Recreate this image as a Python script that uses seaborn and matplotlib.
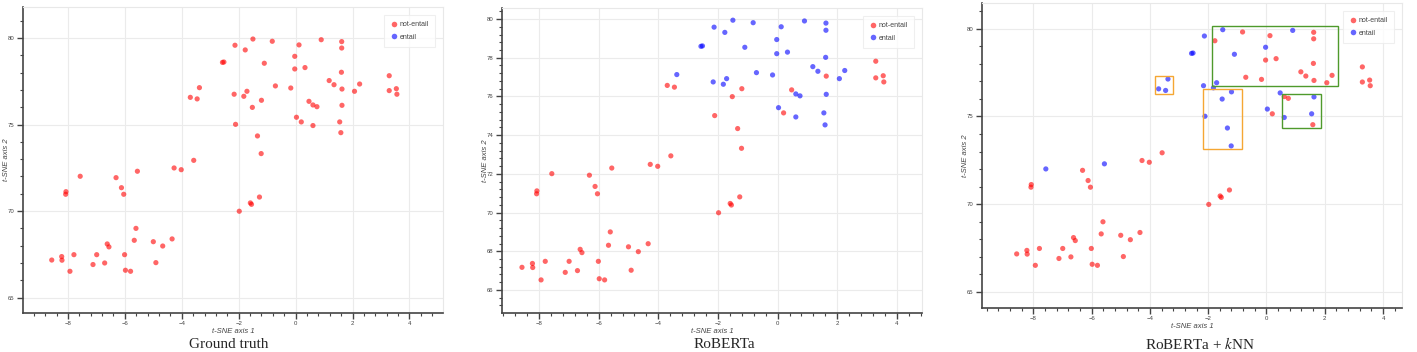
import numpy as np
import pandas as pd
import matplotlib
matplotlib.use("Agg")
import matplotlib.pyplot as plt
import seaborn as sns
from matplotlib.ticker import MultipleLocator
from matplotlib.patches import Rectangle
from matplotlib.lines import Line2D

# t-SNE coordinates of the 79 examples (same points in every panel)
tsne_x = [-8.57, -8.22, -8.21, -7.93, -7.79, -8.07, -8.08, -7.57, -7.12, -6.99,
          -6.71, -6.62, -6.56, -6.31, -6.12, -6.04, -6.01, -5.98, -5.80, -5.67,
          -5.61, -5.56, -5.00, -4.91, -4.67, -4.34, -4.27, -4.02, -3.58, -3.70,
          -3.46, -3.38, -2.57, -2.52, -2.16, -2.13, -2.11, -1.98, -1.82, -1.77,
          -1.71, -1.59, -1.55, -1.52, -1.50, -1.34, -1.27, -1.21, -1.20, -1.10,
          -0.82, -0.71, -0.17, -0.03, -0.03, 0.03, 0.12, 0.20, 0.33, 0.47,
          0.61, 0.61, 0.75, 0.90, 1.18, 1.35, 1.55, 1.59, 1.61, 1.62,
          1.62, 1.63, 1.63, 2.07, 2.25, 3.29, 3.29, 3.54, 3.56]
tsne_y = [67.17, 67.37, 67.16, 66.52, 67.48, 71.12, 70.97, 72.01, 66.91, 67.48,
          67.00, 68.10, 67.93, 71.93, 71.35, 70.97, 67.48, 66.58, 66.52, 68.31,
          69.00, 72.30, 68.23, 67.02, 67.98, 68.39, 72.49, 72.39, 72.93, 76.57,
          76.48, 77.13, 78.59, 78.61, 76.75, 79.58, 75.01, 69.99, 76.63, 79.31,
          76.92, 70.47, 70.39, 75.99, 79.94, 74.34, 70.81, 73.32, 76.40, 78.54,
          79.81, 77.23, 77.11, 78.94, 78.21, 75.42, 79.60, 75.15, 78.29, 76.34,
          76.13, 74.94, 76.03, 79.90, 77.54, 77.30, 75.15, 74.53, 78.02, 79.42,
          79.79, 77.05, 76.11, 76.92, 77.34, 77.82, 76.96, 77.07, 76.75]

# 1 = entail, 0 = not-entail
truth_labels = [0] * 79
roberta_labels = [0, 0, 0, 0, 0, 0, 0, 0, 0, 0,
                  0, 0, 0, 0, 0, 0, 0, 0, 0, 0,
                  0, 0, 0, 0, 0, 0, 0, 0, 0, 0,
                  0, 1, 1, 1, 1, 1, 0, 0, 1, 1,
                  1, 0, 0, 0, 1, 0, 0, 0, 0, 1,
                  1, 1, 1, 1, 1, 1, 1, 0, 1, 0,
                  1, 1, 1, 1, 1, 1, 1, 1, 1, 1,
                  1, 0, 1, 1, 1, 0, 0, 0, 0]
knn_labels = [0, 0, 0, 0, 0, 0, 0, 1, 0, 0,
              0, 0, 0, 0, 0, 0, 0, 0, 0, 0,
              0, 1, 0, 0, 0, 0, 0, 0, 0, 1,
              1, 1, 1, 1, 1, 1, 1, 0, 1, 0,
              1, 0, 0, 1, 1, 1, 0, 1, 1, 1,
              0, 0, 0, 1, 0, 1, 0, 0, 0, 1,
              0, 1, 0, 1, 0, 0, 1, 0, 0, 0,
              0, 0, 1, 0, 0, 0, 0, 0, 0]

class_names = ["not-entail", "entail"]
captions = ["Ground truth", "RoBERTa", "RoBERTa + $\\it{k}$NN"]

# highlighted regions in the kNN panel: (x0, y0, x1, y1, colour)
knn_boxes = [(-1.87, 76.73, 2.45, 80.13, "#4f9a2c"),
             (0.54, 74.34, 1.86, 76.26, "#4f9a2c"),
             (-3.84, 76.28, -3.22, 77.28, "#f5a733"),
             (-2.18, 73.15, -0.84, 76.56, "#f5a733")]

sns.set_style("white")
plt.rcParams["font.family"] = ["Liberation Sans", "DejaVu Sans"]
plt.rcParams["mathtext.fontset"] = "stix"

palette = {"not-entail": (1.0, 0.0, 0.0, 0.6), "entail": (0.0, 0.0, 1.0, 0.6)}

fig = plt.figure(figsize=(14.17, 3.52), dpi=100)
W, H = 1417, 352
# axes boxes in pixels: left, top, right, bottom
boxes = [(23, 7, 443, 313), (502, 8, 922, 313), (982, 3, 1402, 308)]
xlims = [(-9.58, 5.18), (-9.24, 4.84), (-9.76, 4.65)]
ylims = [(64.11, 81.79), (64.81, 80.57), (64.09, 81.46)]
ysteps = [(5, 1), (2, 0.4), (5, 1)]
cap_x = [229, 724, 1200]

for i, labels in enumerate([truth_labels, roberta_labels, knn_labels]):
    l, t, r, b = boxes[i]
    ax = fig.add_axes([l / W, 1 - b / H, (r - l) / W, (b - t) / H])
    df = pd.DataFrame({"x": tsne_x, "y": tsne_y,
                       "label": [class_names[v] for v in labels]})
    sns.scatterplot(data=df, x="x", y="y", hue="label", palette=palette,
                    hue_order=class_names, s=14, linewidth=0, ax=ax, legend=False)
    ax.set_xlim(*xlims[i])
    ax.set_ylim(*ylims[i])
    ax.xaxis.set_major_locator(MultipleLocator(2))
    ax.xaxis.set_minor_locator(MultipleLocator(0.4))
    ax.yaxis.set_major_locator(MultipleLocator(ysteps[i][0]))
    ax.yaxis.set_minor_locator(MultipleLocator(ysteps[i][1]))
    ax.grid(True, which="major", color="#ebebeb", lw=0.8)
    ax.set_axisbelow(True)
    for s in ["top", "right"]:
        ax.spines[s].set_color("#e8e8e8")
        ax.spines[s].set_linewidth(0.8)
    for s in ["left", "bottom"]:
        ax.spines[s].set_color("#444444")
        ax.spines[s].set_linewidth(1.2)
    ax.tick_params(which="major", direction="out", length=4, width=1,
                   color="#444444", labelsize=4.3, labelcolor="#444444", pad=2,
                   left=True, bottom=True)
    ax.tick_params(which="minor", direction="out", length=2.5, width=0.8,
                   color="#444444", left=True, bottom=True)
    ax.set_xlabel("t-SNE axis 1", fontsize=5.5, style="italic", color="#444444")
    ax.set_ylabel("t-SNE axis 2", fontsize=5.5, style="italic", color="#444444")
    ax.xaxis.set_label_coords(0.5, -15 / (b - t))
    ax.yaxis.set_label_coords(-13 / (r - l), 0.5)

    handles = [Line2D([], [], ls="", marker="o", ms=4, mec="none", mfc=palette[n])
                for n in class_names]
    leg = ax.legend(handles, class_names, loc="upper right", bbox_to_anchor=(0.99, 0.985),
                    fontsize=5, frameon=True, fancybox=False, borderpad=0.9,
                    handletextpad=0.4, labelspacing=0.8, handlelength=1.0)
    leg.get_frame().set_edgecolor("#ececec")
    leg.get_frame().set_linewidth(0.8)
    for txt in leg.get_texts():
        txt.set_color("#444444")

    if i == 2:
        for x0, y0, x1, y1, c in knn_boxes:
            ax.add_patch(Rectangle((x0, y0), x1 - x0, y1 - y0, fill=False,
                                   edgecolor=c, lw=1.0, zorder=3))

    fig.text(cap_x[i] / W, 1 - 344 / H, captions[i], ha="center", va="center",
             fontsize=11, family="Liberation Serif")

fig.savefig("out.png", dpi=100)
